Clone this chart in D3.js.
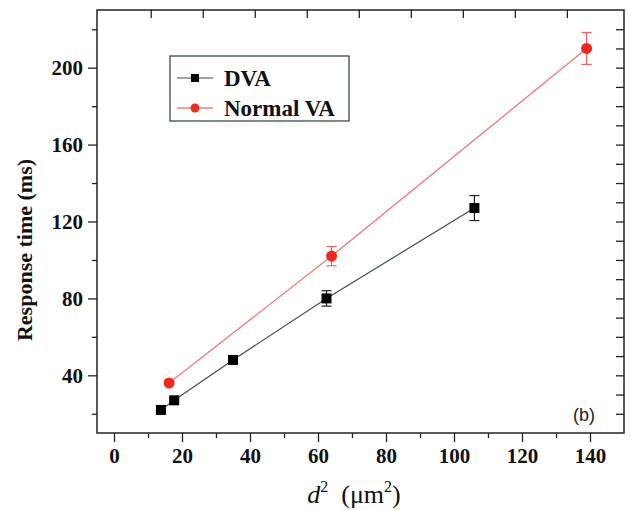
<!DOCTYPE html>
<html>
<head>
<meta charset="utf-8">
<script src="https://cdn.jsdelivr.net/npm/d3@7"></script>
<style>
  body { margin: 0; background: #fff; }
  text { font-family: "Liberation Serif", "Times New Roman", serif; }
</style>
</head>
<body>
<div id="chart"></div>
<script>
// data
var dvaX = [13.8, 17.7, 35, 62.5, 106];
var dvaY = [22, 27, 48, 80, 127];
var dvaErr = [0.8, 1, 1.2, 4, 6.5];

var vaX = [16.2, 64, 139];
var vaY = [36, 102, 210];
var vaErr = [0.8, 5, 8.3];

var xTicks = [0, 20, 40, 60, 80, 100, 120, 140];
var xMinor = [10, 30, 50, 70, 90, 110, 130];
var yTicks = [40, 80, 120, 160, 200];
var yMinor = [20, 60, 100, 140, 180, 220];
var rightTicks = [20, 30, 40, 50, 60, 70, 80, 90, 100, 110, 120, 130, 140, 150, 160, 170, 180, 190, 200, 210, 220];
var topTicks = [10.8, 26.1, 41.4, 56.7, 72, 87.3, 102.6, 117.9, 133.2];

var w = 630, h = 510;
var pl = 97, pr = 624, pt = 10, pb = 433;

var svg = d3.select("#chart").append("svg")
    .attr("width", w)
    .attr("height", h);

var x = d3.scaleLinear().domain([-5, 150]).range([pl, pr]);
var y = d3.scaleLinear().domain([10, 230]).range([pb, pt]);

var dva = dvaX.map(function(d, i) { return {x: d, y: dvaY[i], e: dvaErr[i]}; });
var va = vaX.map(function(d, i) { return {x: d, y: vaY[i], e: vaErr[i]}; });

function styleTicks(g) {
    g.select(".domain").remove();
    g.selectAll("line").attr("stroke", "#222").attr("stroke-width", 1.3);
}

// bottom axis, ticks outward
var gx = svg.append("g").attr("transform", "translate(0," + pb + ")")
    .call(d3.axisBottom(x).tickValues(xTicks).tickSize(9).tickPadding(6))
    .call(styleTicks);
gx.selectAll("text").style("font-size", "21px").style("font-weight", "bold")
    .style("font-family", "'Liberation Serif', serif").attr("fill", "#111");
svg.append("g").attr("transform", "translate(0," + pb + ")")
    .call(d3.axisBottom(x).tickValues(xMinor).tickSize(5).tickFormat(""))
    .call(styleTicks);

// left axis, ticks outward
var gy = svg.append("g").attr("transform", "translate(" + pl + ",0)")
    .call(d3.axisLeft(y).tickValues(yTicks).tickSize(9).tickPadding(5))
    .call(styleTicks);
gy.selectAll("text").style("font-size", "21px").style("font-weight", "bold")
    .style("font-family", "'Liberation Serif', serif").attr("fill", "#111");
svg.append("g").attr("transform", "translate(" + pl + ",0)")
    .call(d3.axisLeft(y).tickValues(yMinor).tickSize(5).tickFormat(""))
    .call(styleTicks);

// top and right ticks point inward
svg.append("g").attr("transform", "translate(0," + pt + ")")
    .call(d3.axisBottom(x).tickValues(topTicks).tickSize(8).tickFormat(""))
    .call(styleTicks);
svg.append("g").attr("transform", "translate(" + pr + ",0)")
    .call(d3.axisLeft(y).tickValues(rightTicks).tickSize(8).tickFormat(""))
    .call(styleTicks);

// frame
svg.append("rect")
    .attr("x", pl).attr("y", pt)
    .attr("width", pr - pl).attr("height", pb - pt)
    .attr("fill", "none").attr("stroke", "#222").attr("stroke-width", 1.5);

var line = d3.line().x(function(d) { return x(d.x); }).y(function(d) { return y(d.y); });

// series lines
svg.append("path").datum(dva).attr("d", line)
    .attr("fill", "none").attr("stroke", "#3d4f4f").attr("stroke-width", 1.2);
svg.append("path").datum(va).attr("d", line)
    .attr("fill", "none").attr("stroke", "#f07a7a").attr("stroke-width", 1.3);

// error bars
function errBars(data, color) {
    var g = svg.append("g").attr("stroke", color).attr("stroke-width", 1.2);
    g.selectAll("line.v").data(data).enter().append("line")
        .attr("x1", function(d) { return x(d.x); }).attr("x2", function(d) { return x(d.x); })
        .attr("y1", function(d) { return y(d.y - d.e); }).attr("y2", function(d) { return y(d.y + d.e); });
    g.selectAll("line.t").data(data).enter().append("line")
        .attr("x1", function(d) { return x(d.x) - 5; }).attr("x2", function(d) { return x(d.x) + 5; })
        .attr("y1", function(d) { return y(d.y + d.e); }).attr("y2", function(d) { return y(d.y + d.e); });
    g.selectAll("line.b").data(data).enter().append("line")
        .attr("x1", function(d) { return x(d.x) - 5; }).attr("x2", function(d) { return x(d.x) + 5; })
        .attr("y1", function(d) { return y(d.y - d.e); }).attr("y2", function(d) { return y(d.y - d.e); });
}
errBars(dva, "#222");
errBars(va, "#f06060");

// markers
svg.selectAll("rect.dva").data(dva).enter().append("rect")
    .attr("x", function(d) { return x(d.x) - 5; })
    .attr("y", function(d) { return y(d.y) - 5; })
    .attr("width", 10).attr("height", 10)
    .attr("fill", "#000");
svg.selectAll("circle.va").data(va).enter().append("circle")
    .attr("cx", function(d) { return x(d.x); })
    .attr("cy", function(d) { return y(d.y); })
    .attr("r", 5.5)
    .attr("fill", "#f2281e");

// legend
var lg = svg.append("g");
lg.append("rect").attr("x", 170).attr("y", 56).attr("width", 179).attr("height", 65)
    .attr("fill", "none").attr("stroke", "#3a4a4a").attr("stroke-width", 1.3);
lg.append("line").attr("x1", 177).attr("x2", 213).attr("y1", 78).attr("y2", 78)
    .attr("stroke", "#3d4f4f").attr("stroke-width", 1.2);
lg.append("rect").attr("x", 191).attr("y", 74).attr("width", 8).attr("height", 8).attr("fill", "#000");
lg.append("text").attr("x", 224).attr("y", 86).text("DVA")
    .style("font-size", "23px").style("font-weight", "bold").attr("fill", "#111");
lg.append("line").attr("x1", 177).attr("x2", 213).attr("y1", 108).attr("y2", 108)
    .attr("stroke", "#f07a7a").attr("stroke-width", 1.3);
lg.append("circle").attr("cx", 195).attr("cy", 108).attr("r", 4.5).attr("fill", "#f2281e");
lg.append("text").attr("x", 224).attr("y", 116).text("Normal VA")
    .style("font-size", "23px").style("font-weight", "bold").attr("fill", "#111");

// panel tag
svg.append("text").attr("x", 573).attr("y", 421).text("(b)")
    .style("font-family", "'Liberation Sans', Arial, sans-serif").style("font-size", "18px").attr("fill", "#222");

// axis titles
svg.append("text")
    .attr("transform", "translate(32,250) rotate(-90)")
    .attr("text-anchor", "middle")
    .style("font-size", "22px").style("font-weight", "bold").attr("fill", "#111")
    .text("Response time (ms)");

var xt = svg.append("text")
    .attr("x", 354).attr("y", 503)
    .attr("text-anchor", "middle")
    .style("font-size", "26px").attr("fill", "#111");
xt.append("tspan").style("font-style", "italic").text("d");
xt.append("tspan").attr("dy", -11).style("font-size", "16px").text("2");
xt.append("tspan").attr("dy", 11).text("\u00a0\u00a0(\u03bcm");
xt.append("tspan").attr("dy", -11).style("font-size", "16px").text("2");
xt.append("tspan").attr("dy", 11).text(")");
</script>
</body>
</html>
